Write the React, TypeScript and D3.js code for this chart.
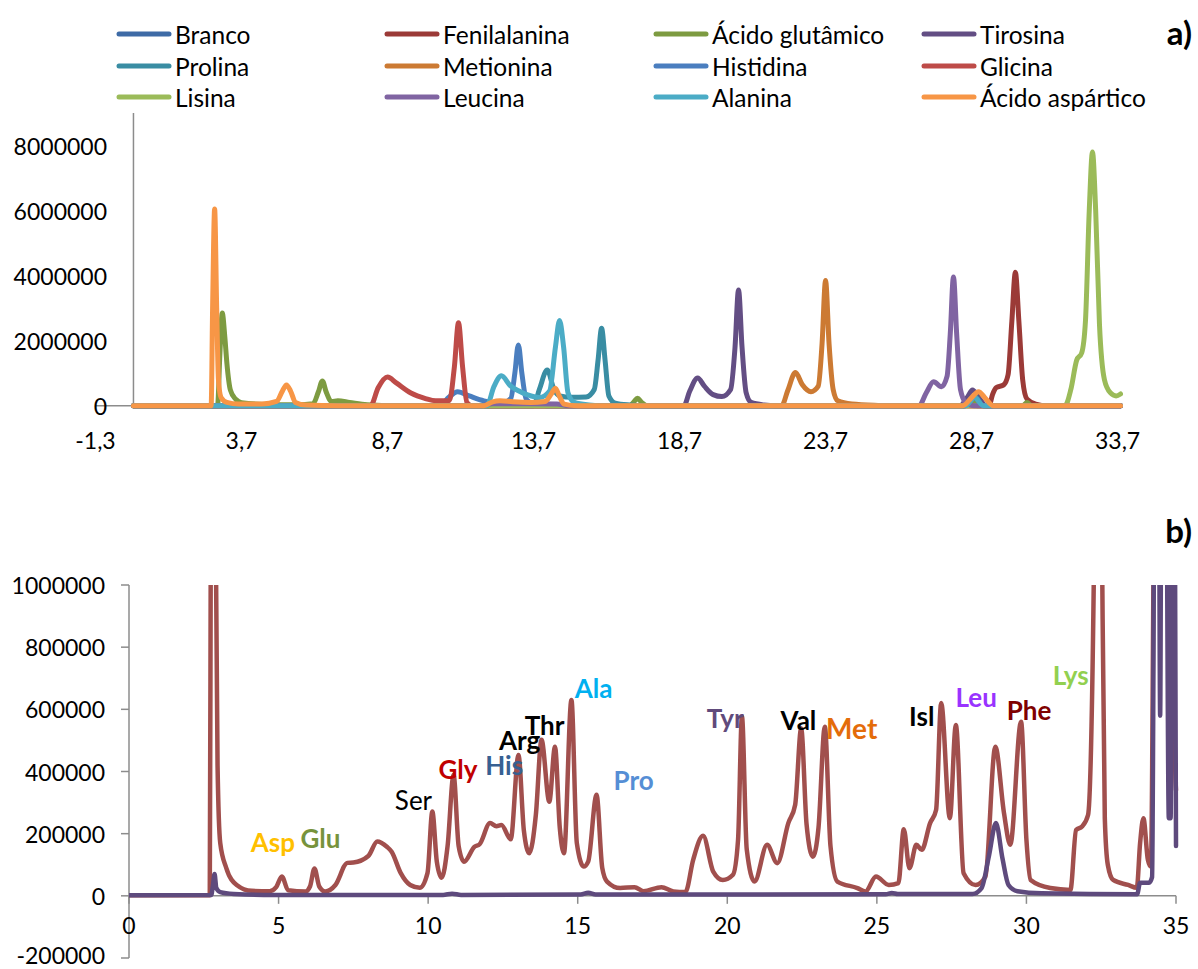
import React from 'react';
import * as d3 from 'd3';

type Pt = [number, number];

// ---------- Panel a: amino acid standards (retention time in min, signal) ----------
const branco: Pt[] = [[0, 0], [28.45, 0], [28.8, 2.0e5], [29.15, 0], [33.8, 0]];
const fenilalanina: Pt[] = [[0, 0], [29.3, 0], [29.42, 3.5e5], [29.55, 5.6e5], [29.8, 6.4e5], [29.95, 9.5e5], [30.08, 2.6e6], [30.2, 4.1e6], [30.32, 2.6e6], [30.45, 8e5], [30.6, 2e5], [30.9, 5e4], [31.3, 0], [33.8, 0]];
const acidoGlutamico: Pt[] = [[0, 0], [2.88, 0], [2.96, 1.6e6], [3.04, 2.85e6], [3.13, 2.1e6], [3.2, 1.3e6], [3.32, 4.8e5], [3.5, 2e5], [3.7, 9e4], [4.5, 4e4], [5.6, 3e4], [6.15, 6e4], [6.33, 4.2e5], [6.47, 7.6e5], [6.6, 4.2e5], [6.78, 1.3e5], [7.0, 1.5e5], [7.4, 1e5], [8.0, 3e4], [9.0, 0], [17.0, 0], [17.14, 1.2e5], [17.26, 2.3e5], [17.4, 1.0e5], [17.6, 0], [28.4, 0], [28.65, 2.5e5], [28.9, 0], [30.45, 0], [30.6, 1e5], [30.75, 0], [33.8, 0]];
const tirosina: Pt[] = [[0, 0], [18.85, 0], [19.05, 4.5e5], [19.32, 8.5e5], [19.55, 6e5], [19.85, 3.4e5], [20.15, 2.8e5], [20.45, 5e5], [20.6, 1.8e6], [20.72, 3.56e6], [20.84, 1.8e6], [20.98, 4e5], [21.15, 1e5], [21.6, 2e4], [22.0, 0], [28.3, 0], [28.55, 2.5e5], [28.73, 4.8e5], [28.95, 2.5e5], [29.2, 0], [33.8, 0]];
const prolina: Pt[] = [[0, 0], [13.7, 0], [13.9, 5e5], [14.17, 1.1e6], [14.4, 5e5], [14.6, 3e5], [15.0, 2.6e5], [15.5, 2.7e5], [15.78, 5e5], [15.91, 1.4e6], [16.03, 2.38e6], [16.15, 1.4e6], [16.28, 3e5], [16.5, 8e4], [17.0, 2e4], [17.5, 0], [28.45, 0], [28.8, 3e5], [29.1, 0], [33.8, 0]];
const metionina: Pt[] = [[0, 0], [22.2, 0], [22.4, 4.5e5], [22.67, 1.02e6], [22.9, 6.5e5], [23.2, 4.3e5], [23.45, 6e5], [23.58, 1.9e6], [23.7, 3.85e6], [23.82, 1.9e6], [23.96, 5e5], [24.12, 1.5e5], [24.6, 5e4], [25.5, 1e4], [26.0, 0], [33.8, 0]];
const histidina: Pt[] = [[0, 0], [10.5, 0], [10.8, 2.6e5], [11.1, 4.3e5], [11.5, 3e5], [12.0, 1.5e5], [12.6, 8e4], [12.92, 2.2e5], [13.06, 1.0e6], [13.18, 1.87e6], [13.3, 1.0e6], [13.45, 2e5], [13.7, 5e4], [14.2, 0], [28.5, 0], [28.8, 2.5e5], [29.1, 0], [33.8, 0]];
const glicina: Pt[] = [[0, 0], [8.12, 0], [8.38, 5.5e5], [8.7, 8.8e5], [9.0, 7e5], [9.5, 3.9e5], [10.0, 2.2e5], [10.35, 1.5e5], [10.82, 1.6e5], [10.99, 1.2e6], [11.13, 2.55e6], [11.27, 1.2e6], [11.42, 1e5], [11.6, 0], [33.8, 0]];
const lisina: Pt[] = [[0, 0], [31.9, 0], [32.1, 5e5], [32.3, 1.4e6], [32.47, 1.62e6], [32.6, 2.6e6], [32.73, 6.0e6], [32.84, 7.8e6], [32.95, 6.0e6], [33.08, 2.5e6], [33.25, 8e5], [33.45, 4e5], [33.65, 3e5], [33.8, 3.6e5]];
const leucina: Pt[] = [[0, 0], [11.9, 0], [12.3, 6e4], [13.5, 6e4], [14.5, 5e4], [14.9, 0], [26.9, 0], [27.15, 4e5], [27.4, 7.4e5], [27.67, 5.8e5], [27.86, 9e5], [27.97, 2.2e6], [28.08, 3.96e6], [28.19, 2.2e6], [28.32, 5e5], [28.5, 1e5], [28.8, 0], [33.8, 0]];
const alanina: Pt[] = [[0, 0], [12.1, 0], [12.35, 6e5], [12.6, 9.2e5], [12.9, 6.2e5], [13.2, 4.5e5], [13.5, 3.3e5], [13.9, 2.5e5], [14.25, 4.5e5], [14.45, 1.8e6], [14.59, 2.62e6], [14.73, 1.8e6], [14.88, 4e5], [15.1, 1e5], [15.6, 2e4], [16.0, 0], [28.5, 0], [28.8, 2.5e5], [29.1, 0], [33.8, 0]];
const acidoAspartico: Pt[] = [[0, 0], [2.66, 0], [2.71, 3e6], [2.78, 6.05e6], [2.85, 3e6], [2.91, 8e5], [3.0, 2.5e5], [3.2, 1e5], [3.6, 5e4], [4.4, 5e4], [4.9, 1.3e5], [5.1, 4.5e5], [5.24, 6.4e5], [5.38, 4.5e5], [5.55, 1e5], [5.9, 2e4], [7.0, 0], [12.0, 0], [12.3, 1.2e5], [12.55, 1.5e5], [13.0, 1.2e5], [13.6, 1e5], [14.1, 1.3e5], [14.3, 3.5e5], [14.45, 5.4e5], [14.58, 3e5], [14.75, 5e4], [15.2, 0], [28.4, 0], [28.7, 2.5e5], [28.94, 4.3e5], [29.15, 2.5e5], [29.45, 0], [33.8, 0]];

const seriesA = [
  { name: 'Branco', color: '#3E6BA6', data: branco },
  { name: 'Fenilalanina', color: '#9B3A37', data: fenilalanina },
  { name: 'Ácido glutâmico', color: '#7D9B41', data: acidoGlutamico },
  { name: 'Tirosina', color: '#634E84', data: tirosina },
  { name: 'Prolina', color: '#398DA3', data: prolina },
  { name: 'Metionina', color: '#CC7A33', data: metionina },
  { name: 'Histidina', color: '#4A7EBF', data: histidina },
  { name: 'Glicina', color: '#BE4B48', data: glicina },
  { name: 'Lisina', color: '#9BBB59', data: lisina },
  { name: 'Leucina', color: '#8064A2', data: leucina },
  { name: 'Alanina', color: '#4BACC6', data: alanina },
  { name: 'Ácido aspártico', color: '#F79646', data: acidoAspartico },
];

const ticksAX = [-1.3, 3.7, 8.7, 13.7, 18.7, 23.7, 28.7, 33.7];
const ticksAY = [0, 2000000, 4000000, 6000000, 8000000];

// ---------- Panel b: sample chromatogram ----------
const amostra: Pt[] = [[0, 2e3], [2.7, 2e3], [2.735, 1.2e6], [2.8, 3e6], [2.9, 1.2e6], [2.96, 4.2e5], [3.05, 1.7e5], [3.25, 9e4], [3.6, 3.5e4], [4.1, 1.6e4], [4.7, 1.5e4], [4.92, 2.8e4], [5.11, 6.2e4], [5.32, 1.8e4], [5.9, 1.4e4], [6.05, 3e4], [6.2, 8.8e4], [6.36, 3e4], [6.56, 1.4e4], [6.9, 3.5e4], [7.3, 1.06e5], [7.5, 1.07e5], [8.0, 1.28e5], [8.3, 1.75e5], [8.62, 1.58e5], [8.78, 1.42e5], [9.08, 7.4e4], [9.4, 3.5e4], [9.72, 2.6e4], [9.98, 7.4e4], [10.14, 2.71e5], [10.29, 1.1e5], [10.45, 5.8e4], [10.65, 1.6e5], [10.85, 3.89e5], [11.02, 1.6e5], [11.2, 1.1e5], [11.55, 1.58e5], [11.72, 1.66e5], [12.07, 2.34e5], [12.28, 2.24e5], [12.45, 2.28e5], [12.76, 1.82e5], [13.02, 4.53e5], [13.2, 2.1e5], [13.38, 1.37e5], [13.6, 2.6e5], [13.79, 5.02e5], [14.05, 3.03e5], [14.24, 4.8e5], [14.4, 2.2e5], [14.54, 1.37e5], [14.79, 6.3e5], [14.97, 1.7e5], [15.2, 9.4e4], [15.35, 1.1e5], [15.63, 3.25e5], [15.82, 9e4], [15.98, 4.6e4], [16.42, 2.5e4], [16.9, 2.8e4], [17.2, 1.5e4], [17.8, 2.8e4], [18.2, 1.4e4], [18.6, 1.2e4], [18.86, 1.16e5], [19.19, 1.93e5], [19.53, 7.8e4], [19.85, 5.1e4], [20.19, 6.8e4], [20.36, 1.8e5], [20.49, 5.77e5], [20.65, 1.5e5], [20.91, 4.6e4], [21.33, 1.64e5], [21.67, 1.05e5], [22.04, 2.34e5], [22.27, 2.93e5], [22.47, 5.39e5], [22.65, 2.3e5], [22.86, 1.26e5], [23.05, 2.2e5], [23.26, 5.44e5], [23.45, 1.6e5], [23.68, 4.6e4], [24.35, 2.5e4], [24.62, 1.4e4], [24.97, 6.2e4], [25.4, 3.5e4], [25.72, 4.1e4], [25.9, 2.14e5], [26.09, 8.9e4], [26.32, 1.64e5], [26.5, 1.48e5], [26.78, 2.34e5], [26.98, 2.76e5], [27.15, 6.2e5], [27.44, 2.5e5], [27.64, 5.5e5], [27.9, 7.3e4], [28.3, 3.5e4], [28.63, 6.2e4], [28.96, 4.8e5], [29.25, 2.66e5], [29.46, 1.64e5], [29.82, 5.6e5], [30.0, 1.8e5], [30.14, 5.1e4], [30.8, 2.5e4], [31.47, 1.9e4], [31.66, 2.12e5], [31.86, 2.23e5], [32.06, 2.6e5], [32.25, 1.0e6], [32.4, 2.6e6], [32.52, 1.2e6], [32.62, 2.5e5], [32.72, 1.0e5], [32.9, 5.1e4], [33.4, 3.5e4], [33.69, 2.6e4], [33.8, 1.7e5], [33.91, 2.5e5], [34.06, 1.16e5], [34.16, 9.4e4], [34.3, 1.5e6], [34.9, 1.5e6], [34.96, 4.8e5], [35.0, 3.4e5]];
const branco2: Pt[] = [[0, 2e3], [2.75, 3e3], [2.8, 3e4], [2.86, 7e4], [2.92, 2.5e4], [3.05, 1.2e4], [3.5, 6e3], [4.5, 3e3], [10.5, 3e3], [10.8, 7e3], [11.1, 3e3], [15.1, 4e3], [15.35, 1e4], [15.6, 4e3], [25.3, 5e3], [25.5, 9e3], [25.7, 6e3], [28.2, 6e3], [28.5, 2.5e4], [28.75, 1.3e5], [28.98, 2.34e5], [29.2, 1.2e5], [29.4, 3.5e4], [29.7, 1.5e4], [30.5, 8e3], [33.7, 5e3], [33.8, 4.2e4], [34.1, 4.2e4], [34.2, 6e4], [34.3, 1.6e6], [34.42, 1.6e6], [34.47, 5.8e5], [34.52, 1.6e6], [34.66, 1.6e6], [34.76, 2.5e5], [34.82, 2.5e5], [34.88, 1.6e6], [34.95, 1.6e6], [35.0, 1.6e5]];

const seriesB = [
  { name: 'Amostra', color: '#A14F4D', data: amostra },
  { name: 'Branco', color: '#5E4A7D', data: branco2 },
];

const ticksBX = [0, 5, 10, 15, 20, 25, 30, 35];
const ticksBY = [-200000, 0, 200000, 400000, 600000, 800000, 1000000];

// Peak identifications: retention time and signal where each name is centred
const peakLabels = [
  { text: 'Asp', rt: 4.81, value: 174000, color: '#FFC000', bold: true },
  { text: 'Glu', rt: 6.4, value: 187000, color: '#77933C', bold: true },
  { text: 'Ser', rt: 9.51, value: 309000, color: '#000000', bold: false },
  { text: 'Gly', rt: 11.0, value: 409000, color: '#C00000', bold: true },
  { text: 'His', rt: 12.54, value: 421000, color: '#376092', bold: true },
  { text: 'Arg', rt: 13.06, value: 502000, color: '#000000', bold: true },
  { text: 'Thr', rt: 13.89, value: 550000, color: '#000000', bold: true },
  { text: 'Ala', rt: 15.53, value: 669000, color: '#00B0F0', bold: true },
  { text: 'Pro', rt: 16.87, value: 373000, color: '#558ED5', bold: true },
  { text: 'Tyr', rt: 19.93, value: 573000, color: '#604A7B', bold: true },
  { text: 'Val', rt: 22.38, value: 566000, color: '#000000', bold: true },
  { text: 'Met', rt: 24.16, value: 540000, color: '#E46C0A', bold: true, big: true },
  { text: 'Isl', rt: 26.5, value: 579000, color: '#000000', bold: true },
  { text: 'Leu', rt: 28.32, value: 640000, color: '#9933FF', bold: true },
  { text: 'Phe', rt: 30.09, value: 598000, color: '#7F0000', bold: true },
  { text: 'Lys', rt: 31.48, value: 711000, color: '#92D050', bold: true },
];

const locale = d3.formatLocale({ decimal: ',', thousands: '.', grouping: [3], currency: ['', ''], minus: '-' });
const fmtRT = locale.format('.1f');
const fmtInt = locale.format('d');

const FONT = 'Lato, "Open Sans", sans-serif';
const AXIS = '#8C8C8C';

export default function App() {
  // panel a scales
  const xA = d3.scaleLinear().domain([-1.3, 33.8]).range([95.5, 1120.5]);
  const yA = d3.scaleLinear().domain([0, 9000000]).range([405.7, 113]);
  // panel b scales
  const xB = d3.scaleLinear().domain([0, 35]).range([129, 1176]);
  const yB = d3.scaleLinear().domain([-200000, 1000000]).range([958, 585]);

  const lineA = d3.line<Pt>().x((d) => xA(d[0])).y((d) => yA(d[1])).curve(d3.curveMonotoneX);
  const lineB = d3.line<Pt>().x((d) => xB(d[0])).y((d) => yB(d[1])).curve(d3.curveMonotoneX);

  const legendCols = [117, 385, 654, 922];
  const legendRows = [34, 66, 97];

  return (
    <svg width={1198} height={969} style={{ position: 'absolute', left: 0, top: 0, background: '#fff' }} fontFamily={FONT}>
      <defs>
        <clipPath id="clipA">
          <rect x={xA(0) - 3} y={100} width={xA(33.8) - xA(0) + 6} height={310} />
        </clipPath>
        <clipPath id="clipB">
          <rect x={xB(0)} y={yB(1000000)} width={xB(35) - xB(0) + 3} height={yB(-200000) - yB(1000000)} />
        </clipPath>
      </defs>

      {/* Legend */}
      {seriesA.map((s, i) => {
        const cx = legendCols[i % 4];
        const cy = legendRows[Math.floor(i / 4)];
        return (
          <g key={s.name}>
            <line x1={cx + 2} x2={cx + 52} y1={cy} y2={cy} stroke={s.color} strokeWidth={5} strokeLinecap="round" />
            <text x={cx + 58} y={cy} dominantBaseline="central" fontSize={24.5} fill="#000">{s.name}</text>
          </g>
        );
      })}
      <text x={1192} y={32} textAnchor="end" dominantBaseline="central" fontSize={33} fontWeight="bold">a)</text>

      {/* Panel a axes */}
      <line x1={xA(0)} x2={xA(0)} y1={yA(9000000)} y2={yA(0)} stroke={AXIS} strokeWidth={1.5} />
      <line x1={xA(-1.3)} x2={xA(33.8)} y1={yA(0)} y2={yA(0)} stroke={AXIS} strokeWidth={1.5} />
      {ticksAY.map((t) => (
        <text key={t} x={107} y={yA(t)} textAnchor="end" dominantBaseline="central" fontSize={23}>{fmtInt(t)}</text>
      ))}
      {ticksAX.map((t) => (
        <text key={t} x={xA(t)} y={440} textAnchor="middle" dominantBaseline="central" fontSize={23}>{fmtRT(t)}</text>
      ))}

      <g clipPath="url(#clipA)" fill="none" strokeLinejoin="round" strokeLinecap="round">
        {seriesA.map((s) => (
          <path key={s.name} d={lineA(s.data) ?? ''} stroke={s.color} strokeWidth={5} />
        ))}
      </g>

      {/* Panel b */}
      <text x={1192} y={530} textAnchor="end" dominantBaseline="central" fontSize={33} fontWeight="bold">b)</text>
      <line x1={xB(0)} x2={xB(0)} y1={yB(1000000)} y2={yB(-200000)} stroke={AXIS} strokeWidth={1.5} />
      <line x1={xB(0)} x2={xB(35)} y1={yB(0)} y2={yB(0)} stroke={AXIS} strokeWidth={1.5} />
      {ticksBY.map((t) => (
        <g key={t}>
          <line x1={xB(0) - 8} x2={xB(0)} y1={yB(t)} y2={yB(t)} stroke={AXIS} strokeWidth={1.5} />
          <text x={105} y={Math.min(yB(t), 955)} textAnchor="end" dominantBaseline="central" fontSize={23}>{fmtInt(t)}</text>
        </g>
      ))}
      {ticksBX.map((t) => (
        <g key={t}>
          <line x1={xB(t)} x2={xB(t)} y1={yB(0)} y2={yB(0) + 8} stroke={AXIS} strokeWidth={1.5} />
          <text x={xB(t)} y={925} textAnchor="middle" dominantBaseline="central" fontSize={23}>{fmtInt(t)}</text>
        </g>
      ))}

      <g clipPath="url(#clipB)" fill="none" strokeLinejoin="round" strokeLinecap="round">
        {seriesB.map((s) => (
          <path key={s.name} d={lineB(s.data) ?? ''} stroke={s.color} strokeWidth={4.5} />
        ))}
      </g>

      {peakLabels.map((l) => (
        <text key={l.text} x={xB(l.rt)} y={yB(l.value)} textAnchor="middle" dominantBaseline="central"
          fontSize={l.big ? 28 : 26} fontWeight={l.bold ? 'bold' : 'normal'} fill={l.color}>{l.text}</text>
      ))}
    </svg>
  );
}
